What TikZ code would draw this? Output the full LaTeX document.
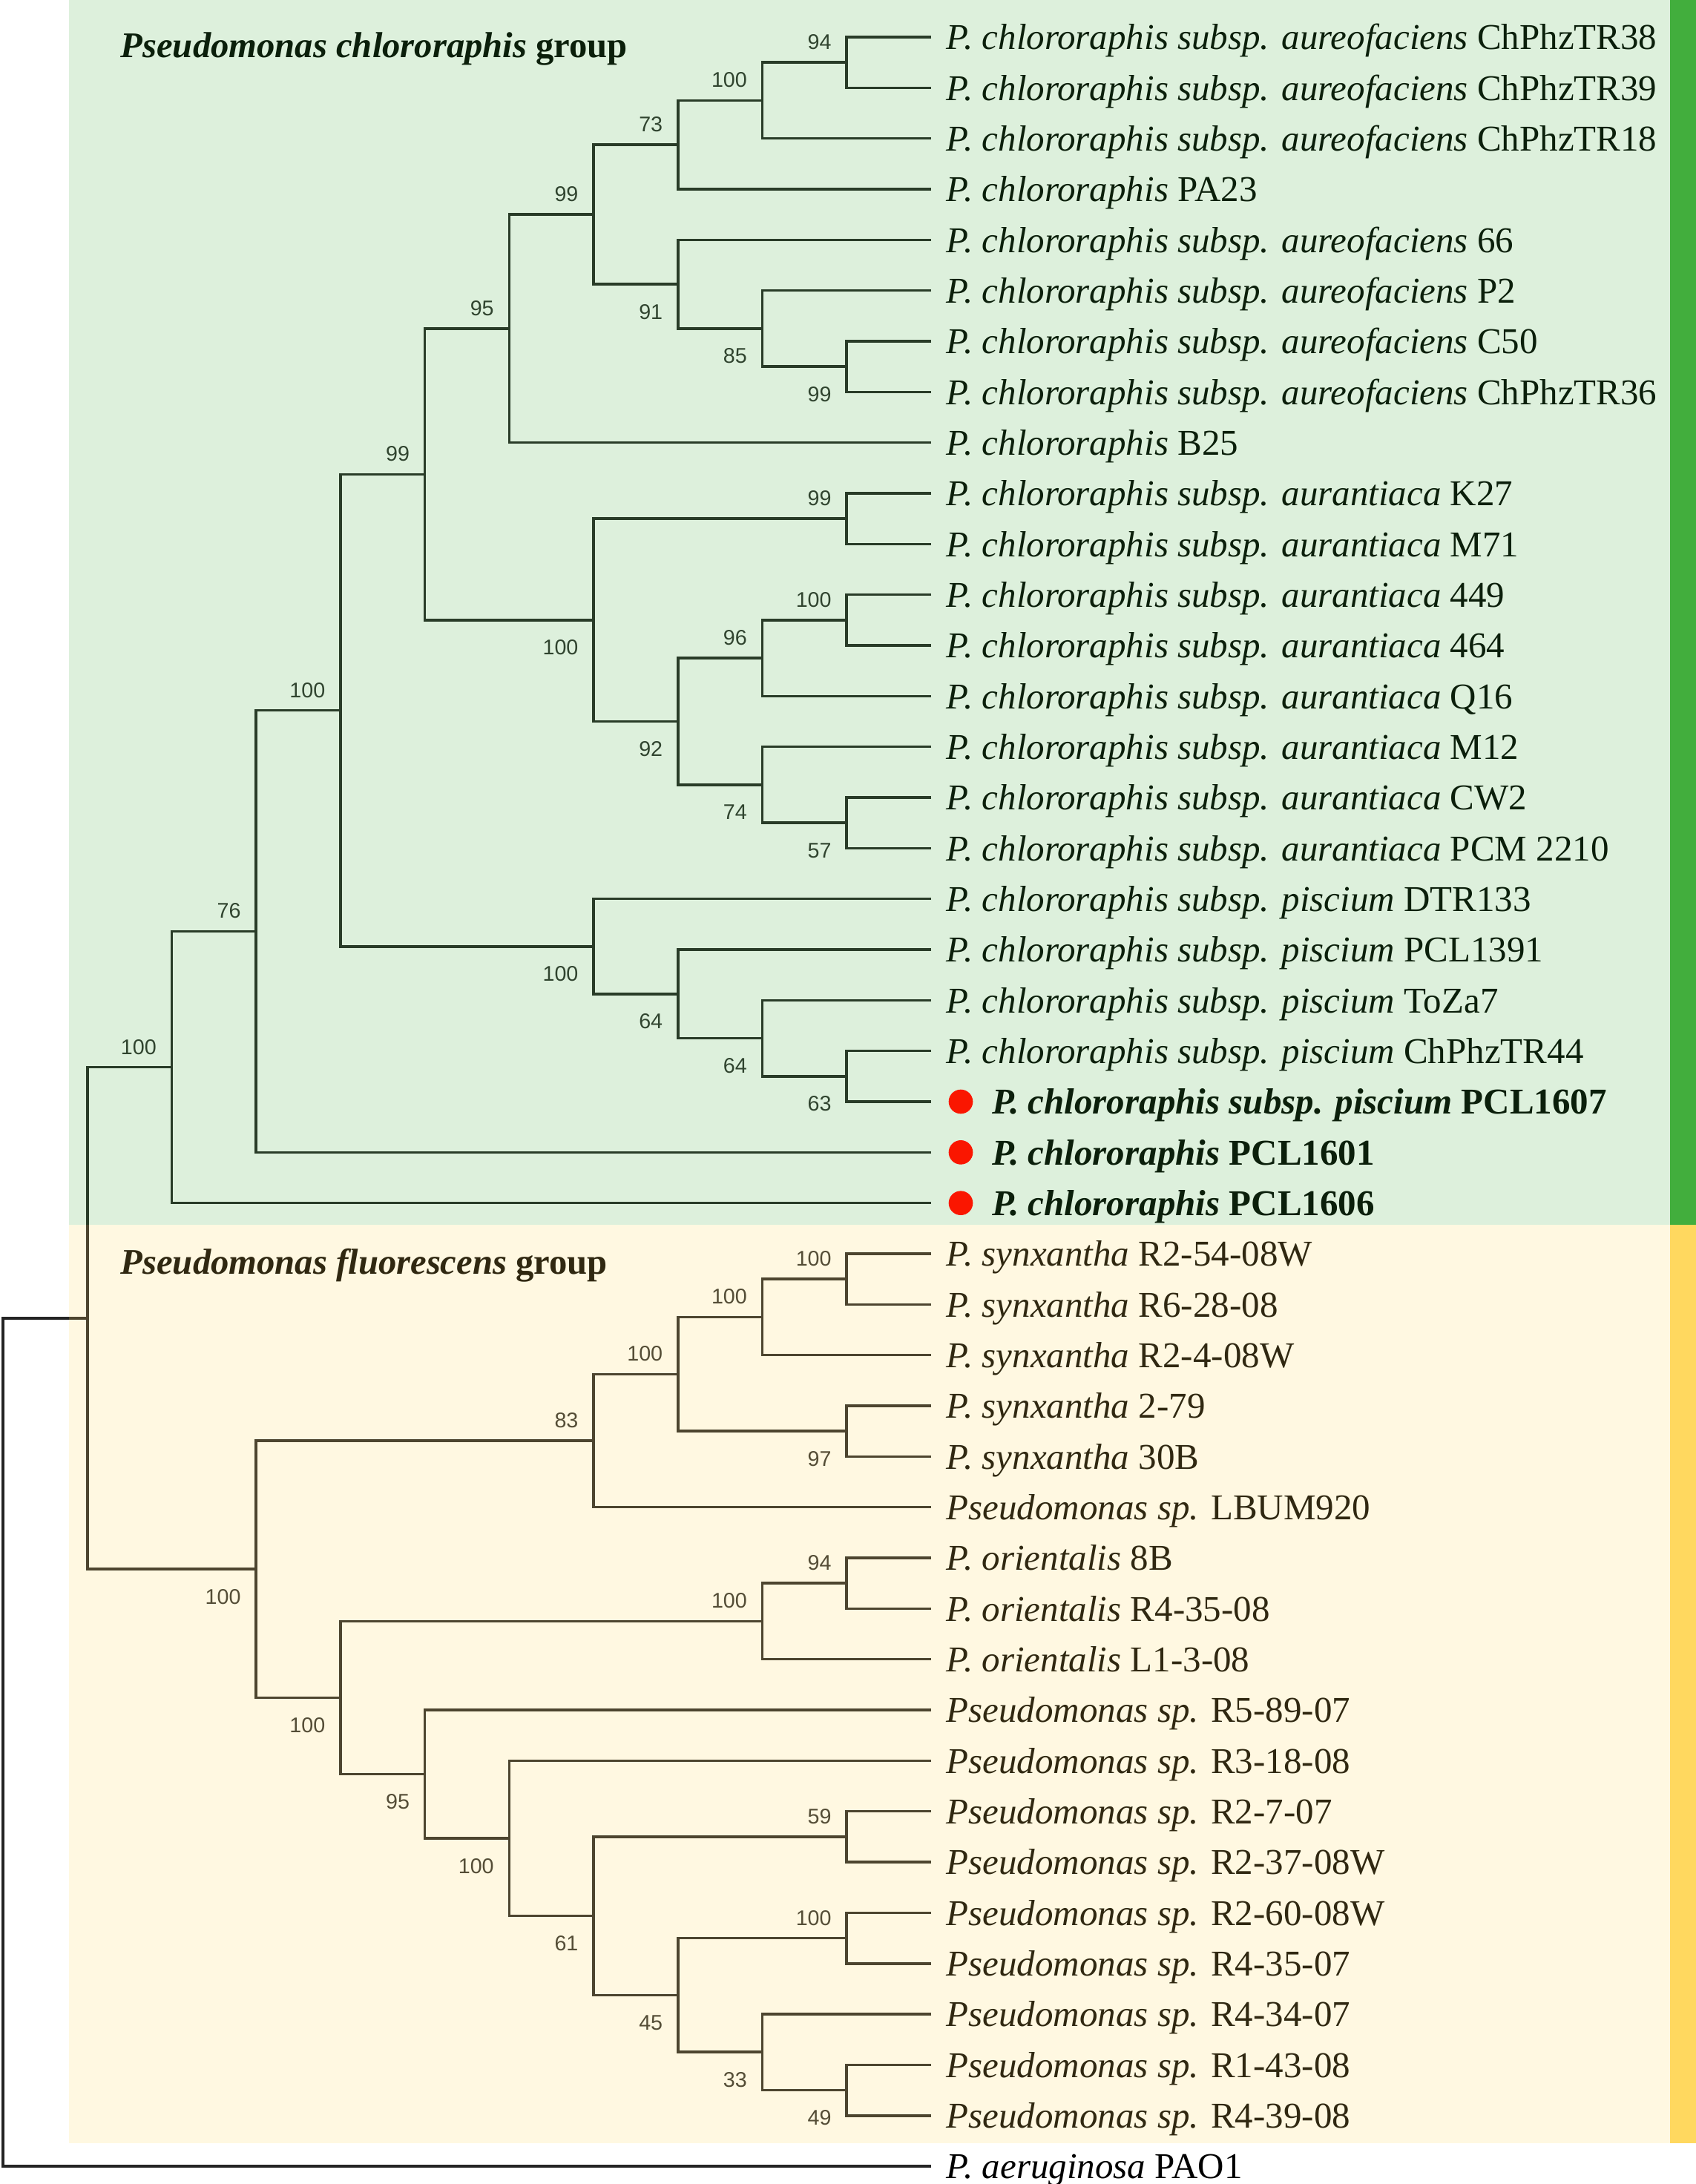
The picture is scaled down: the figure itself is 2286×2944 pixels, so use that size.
\documentclass[tikz,border=0pt]{standalone}
\usepackage{fontspec}
\setmainfont{Liberation Serif}
\newfontfamily\bsfont{Liberation Sans}
\usetikzlibrary{calc}
\definecolor{grpgreen}{RGB}{66,174,61}
\definecolor{grpyellow}{RGB}{255,216,95}
\definecolor{dotred}{RGB}{250,22,0}
\definecolor{linec}{RGB}{36,36,36}
\definecolor{bsc}{RGB}{45,45,45}
\newcommand\clade[4]{%
  \coordinate (tmp) at ($(#3)!0.5!(#4)$);
  \coordinate (#1) at (tmp -| L#2);
  \draw[br] (#3) -| (#1) |- (#4);}
\newcommand\bsa[2]{\node[bs] (b#1) at ($(#1)+(-20,-17.5)$) {#2};}
\newcommand\bsb[2]{\node[bs] (b#1) at ($(#1)+(-20,47)$) {#2};}
\begin{document}
\begin{tikzpicture}[x=0.3pt,y=-0.3pt,
  br/.style={draw=linec,line width=1.08pt},
  bs/.style={anchor=base east,inner sep=0pt,text=bsc,font=\bsfont\fontsize{8.6}{10}\selectfont},
  lbl/.style={anchor=base west,inner sep=0pt,text=black,font=\fontsize{14.7}{17}\selectfont},
  blbl/.style={lbl,font=\bfseries\fontsize{14.7}{17}\selectfont},
  gtitle/.style={anchor=base west,inner sep=0pt,text=black,font=\bfseries\fontsize{14.6}{17}\selectfont},
  rdot/.style={circle,fill=dotred,inner sep=0pt,minimum size=9.8pt}]
\useasboundingbox (0,0) rectangle (2286,2944);
% levels
\foreach \k in {0,...,11} \coordinate (L\k) at ({1255-\k*113.73},0);
% leaves
\foreach \i in {1,...,43} \coordinate (l\i) at (1255,{50+(\i-1)*68.3333});
% leaf labels
\foreach \i/\sp/\st in {
 1/{P. chlororaphis subsp. aureofaciens}/{ChPhzTR38},
 2/{P. chlororaphis subsp. aureofaciens}/{ChPhzTR39},
 3/{P. chlororaphis subsp. aureofaciens}/{ChPhzTR18},
 4/{P. chlororaphis}/{PA23},
 5/{P. chlororaphis subsp. aureofaciens}/{66},
 6/{P. chlororaphis subsp. aureofaciens}/{P2},
 7/{P. chlororaphis subsp. aureofaciens}/{C50},
 8/{P. chlororaphis subsp. aureofaciens}/{ChPhzTR36},
 9/{P. chlororaphis}/{B25},
 10/{P. chlororaphis subsp. aurantiaca}/{K27},
 11/{P. chlororaphis subsp. aurantiaca}/{M71},
 12/{P. chlororaphis subsp. aurantiaca}/{449},
 13/{P. chlororaphis subsp. aurantiaca}/{464},
 14/{P. chlororaphis subsp. aurantiaca}/{Q16},
 15/{P. chlororaphis subsp. aurantiaca}/{M12},
 16/{P. chlororaphis subsp. aurantiaca}/{CW2},
 17/{P. chlororaphis subsp. aurantiaca}/{PCM 2210},
 18/{P. chlororaphis subsp. piscium}/{DTR133},
 19/{P. chlororaphis subsp. piscium}/{PCL1391},
 20/{P. chlororaphis subsp. piscium}/{ToZa7},
 21/{P. chlororaphis subsp. piscium}/{ChPhzTR44},
 25/{P. synxantha}/{R2-54-08W},
 26/{P. synxantha}/{R6-28-08},
 27/{P. synxantha}/{R2-4-08W},
 28/{P. synxantha}/{2-79},
 29/{P. synxantha}/{30B},
 30/{Pseudomonas sp.}/{LBUM920},
 31/{P. orientalis}/{8B},
 32/{P. orientalis}/{R4-35-08},
 33/{P. orientalis}/{L1-3-08},
 34/{Pseudomonas sp.}/{R5-89-07},
 35/{Pseudomonas sp.}/{R3-18-08},
 36/{Pseudomonas sp.}/{R2-7-07},
 37/{Pseudomonas sp.}/{R2-37-08W},
 38/{Pseudomonas sp.}/{R2-60-08W},
 39/{Pseudomonas sp.}/{R4-35-07},
 40/{Pseudomonas sp.}/{R4-34-07},
 41/{Pseudomonas sp.}/{R1-43-08},
 42/{Pseudomonas sp.}/{R4-39-08},
 43/{P. aeruginosa}/{PAO1}}
 \node[lbl] (t\i) at ($(l\i)+(20,16.7)$) {\textit{\sp} \st};
\node[blbl] (t22) at ($(l22)+(82,16.7)$) {\textit{P. chlororaphis subsp. piscium} PCL1607};
\node[blbl] (t23) at ($(l23)+(82,16.7)$) {\textit{P. chlororaphis} PCL1601};
\node[blbl] (t24) at ($(l24)+(82,16.7)$) {\textit{P. chlororaphis} PCL1606};
% group titles
\node[gtitle] (g1) at (162,77) {\textit{Pseudomonas chlororaphis} group};
\node[gtitle] (g2) at (162,1717) {\textit{Pseudomonas fluorescens} group};
% chlororaphis clades
\clade{Nj}{1}{l1}{l2}
\clade{Ni}{2}{Nj}{l3}
\clade{Ng}{3}{Ni}{l4}
\clade{Nl}{1}{l7}{l8}
\clade{Nk}{2}{l6}{Nl}
\clade{Nh}{3}{l5}{Nk}
\clade{Nf}{4}{Ng}{Nh}
\clade{Ne}{5}{Nf}{l9}
\clade{Nm}{1}{l10}{l11}
\clade{Np}{1}{l12}{l13}
\clade{No}{2}{Np}{l14}
\clade{Nr}{1}{l16}{l17}
\clade{Nq}{2}{l15}{Nr}
\clade{Nn}{3}{No}{Nq}
\clade{Naur}{4}{Nm}{Nn}
\clade{Nd}{6}{Ne}{Naur}
\clade{Nu}{1}{l21}{l22}
\clade{Nt}{2}{l20}{Nu}
\clade{Ns}{3}{l19}{Nt}
\clade{Npis}{4}{l18}{Ns}
\clade{Nc}{7}{Nd}{Npis}
\clade{Nb}{8}{Nc}{l23}
\clade{Na}{9}{Nb}{l24}
% fluorescens clades
\clade{Nsw}{1}{l25}{l26}
\clade{Nsy}{2}{Nsw}{l27}
\clade{Nsz}{1}{l28}{l29}
\clade{Nsx}{3}{Nsy}{Nsz}
\clade{Nsyn}{4}{Nsx}{l30}
\clade{Now}{1}{l31}{l32}
\clade{Nor}{2}{Now}{l33}
\clade{NL}{1}{l36}{l37}
\clade{NN}{1}{l38}{l39}
\clade{NP}{1}{l41}{l42}
\clade{NO}{2}{l40}{NP}
\clade{NM}{3}{NN}{NO}
\clade{NK}{4}{NL}{NM}
\clade{NJ}{5}{l35}{NK}
\clade{NI}{6}{l34}{NJ}
\clade{NH}{7}{Nor}{NI}
\clade{NF}{8}{Nsyn}{NH}
\clade{Nin}{10}{Na}{NF}
\clade{Nroot}{11}{Nin}{l43}
% bootstrap values
\bsa{Nj}{94}\bsa{Ni}{100}\bsa{Ng}{73}\bsa{Nf}{99}\bsa{Ne}{95}\bsa{Nd}{99}
\bsa{Nc}{100}\bsa{Nb}{76}\bsa{Na}{100}\bsa{Nm}{99}\bsa{No}{96}\bsa{Np}{100}
\bsb{Nh}{91}\bsb{Nk}{85}\bsb{Nl}{99}\bsb{Naur}{100}\bsb{Nn}{92}\bsb{Nq}{74}
\bsb{Nr}{57}\bsb{Npis}{100}\bsb{Ns}{64}\bsb{Nt}{64}\bsb{Nu}{63}
\bsa{Nsyn}{83}\bsa{Nsx}{100}\bsa{Nsy}{100}\bsa{Nsw}{100}\bsa{Nor}{100}
\bsa{Now}{94}\bsa{NL}{59}\bsa{NN}{100}
\bsb{NF}{100}\bsb{Nsz}{97}\bsb{NH}{100}\bsb{NI}{95}\bsb{NJ}{100}\bsb{NK}{61}
\bsb{NM}{45}\bsb{NO}{33}\bsb{NP}{49}
% group panels (translucent tint over tree and text)
\fill[fill=grpgreen,fill opacity=0.18] (93,0) rectangle (2251,1651);
\fill[fill=grpyellow,fill opacity=0.19] (93,1651) rectangle (2251,2889);
\fill[fill=grpgreen] (2251,0) rectangle (2286,1651);
\fill[fill=grpyellow] (2251,1651) rectangle (2286,2889);
% markers
\node[rdot] (d22) at ($(l22)+(40,0)$) {};
\node[rdot] (d23) at ($(l23)+(40,0)$) {};
\node[rdot] (d24) at ($(l24)+(40,0)$) {};
\end{tikzpicture}
\end{document}
